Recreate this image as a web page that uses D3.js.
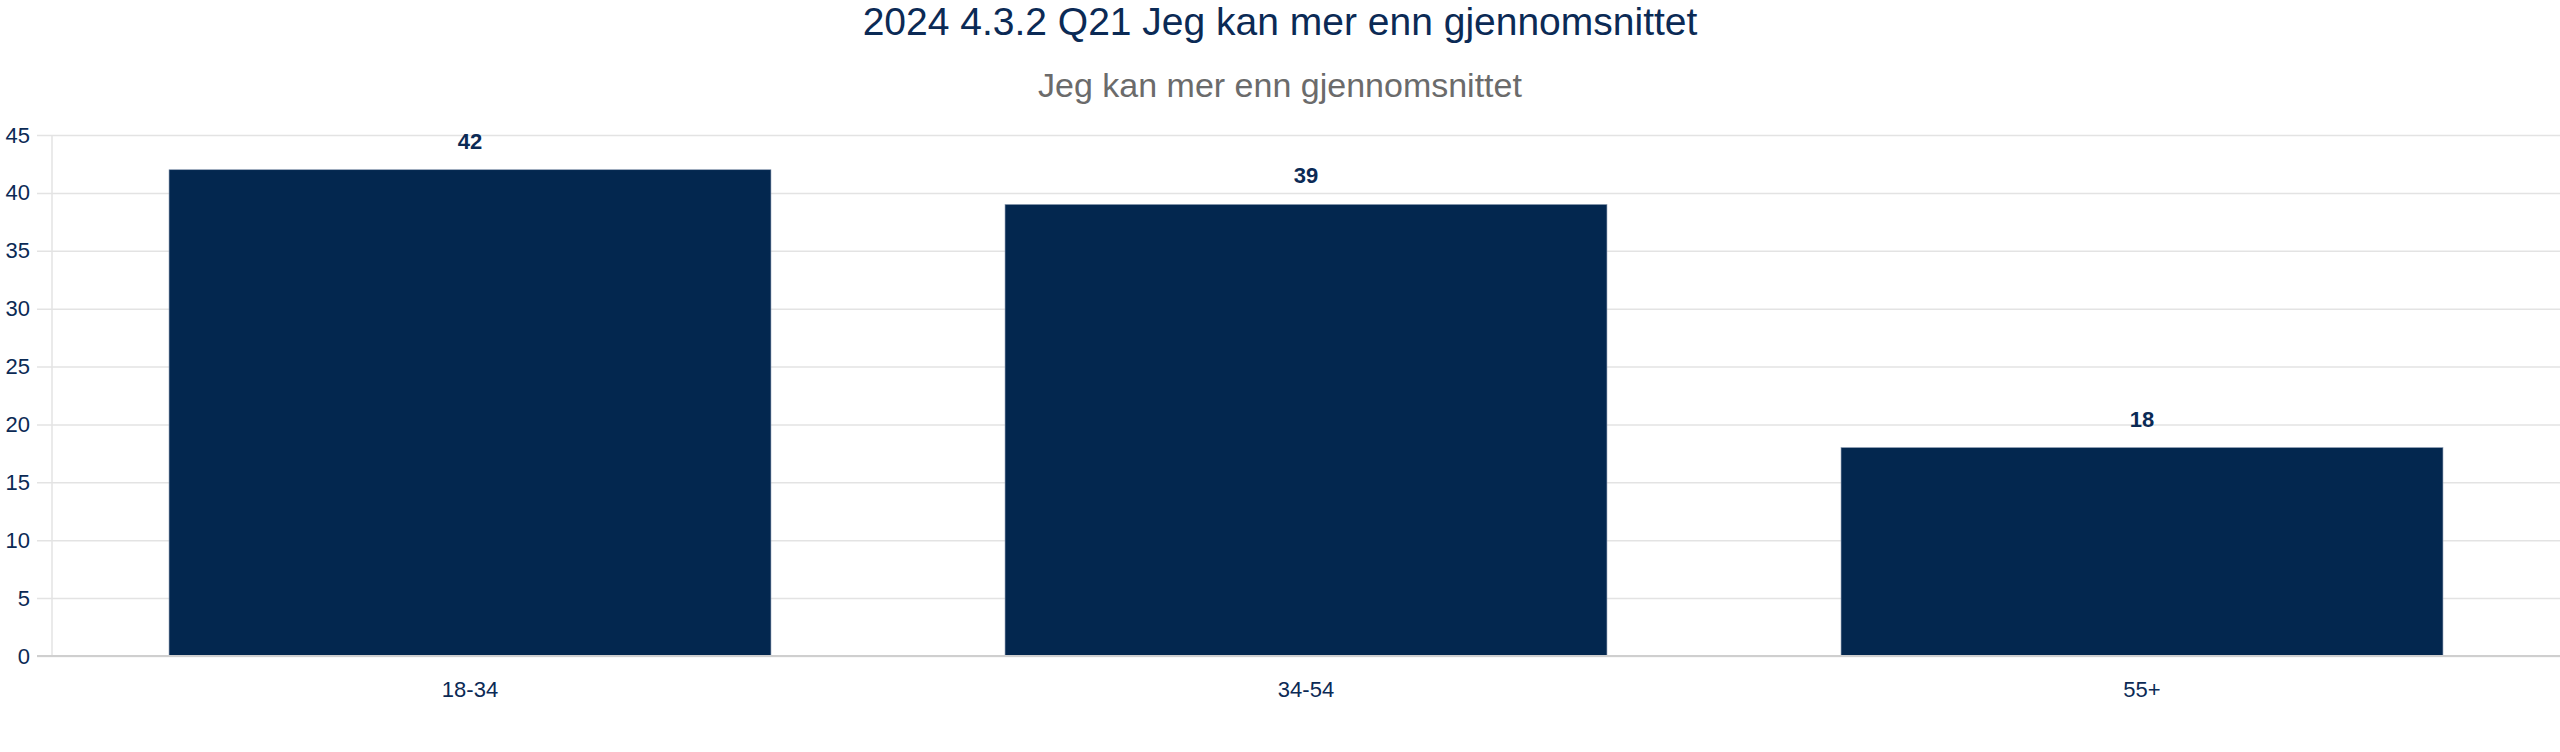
<html>
<head>
<meta charset="utf-8"/>
<script src="https://d3js.org/d3.v7.min.js"></script>
<style>
  body { margin:0; background:#fff; }
  text { font-family: "Liberation Sans", Arial, Helvetica, sans-serif; }
</style>
</head>
<body>
<script>
var titleText = "2024 4.3.2 Q21 Jeg kan mer enn gjennomsnittet";
var subtitleText = "Jeg kan mer enn gjennomsnittet";
var categories = ["18-34", "34-54", "55+"];
var values = [42, 39, 18];
var yTicks = [0, 5, 10, 15, 20, 25, 30, 35, 40, 45];

var width = 2560, height = 752;
var margin = {top: 135, right: 0, bottom: 96, left: 52};
var navy = "#03274f";

var svg = d3.select("body").append("svg").attr("width", width).attr("height", height);

var x = d3.scaleBand().domain(categories)
  .range([margin.left, width - margin.right])
  .paddingInner(0.28).paddingOuter(0.14);
var y = d3.scaleLinear().domain([0, 45]).range([height - margin.bottom, margin.top]);

// titles
svg.append("text").attr("x", width/2).attr("y", 35).attr("text-anchor", "middle")
  .attr("font-size", 39).attr("fill", "#0b2a55").text(titleText);
svg.append("text").attr("x", width/2).attr("y", 97).attr("text-anchor", "middle")
  .attr("font-size", 34).attr("fill", "#6b6b6b").text(subtitleText);

// grid + y axis
var yAxis = d3.axisLeft(y).tickValues(yTicks)
  .tickSize(-(width - margin.left - margin.right)).tickPadding(22);
var gy = svg.append("g").attr("transform", "translate(" + margin.left + ",0)").call(yAxis);
gy.select(".domain").remove();
gy.selectAll(".tick line").attr("stroke", "#e3e3e3").attr("stroke-width", 1.5).attr("x1", -15);
gy.selectAll(".tick text").attr("font-size", 22).attr("fill", "#0b2a55")
  .attr("font-family", "Liberation Sans, Arial, sans-serif");

svg.append("line").attr("x1", margin.left).attr("x2", margin.left)
  .attr("y1", margin.top).attr("y2", y(0)).attr("stroke", "#e3e3e3").attr("stroke-width", 1.5);

// bars
svg.selectAll("rect.bar").data(values).enter().append("rect")
  .attr("class", "bar")
  .attr("x", function(d, i){ return x(categories[i]); })
  .attr("width", x.bandwidth())
  .attr("y", function(d){ return y(d); })
  .attr("height", function(d){ return y(0) - y(d); })
  .attr("fill", navy)
  .attr("stroke", "#8a9ab0").attr("stroke-width", 0.6);

// baseline
svg.append("line").attr("x1", margin.left - 15).attr("x2", width)
  .attr("y1", y(0)).attr("y2", y(0)).attr("stroke", "#cfcfcf").attr("stroke-width", 2);

// value labels
svg.selectAll("text.val").data(values).enter().append("text")
  .attr("class", "val")
  .attr("x", function(d, i){ return x(categories[i]) + x.bandwidth()/2; })
  .attr("y", function(d){ return y(d) - 21; })
  .attr("text-anchor", "middle").attr("font-size", 22).attr("font-weight", "bold")
  .attr("fill", "#0b2a55").text(function(d){ return d; });

// x axis labels
var xAxis = d3.axisBottom(x).tickSize(0).tickPadding(25);
var gx = svg.append("g").attr("transform", "translate(0," + y(0) + ")").call(xAxis);
gx.select(".domain").remove();
gx.selectAll(".tick text").attr("font-size", 22).attr("fill", "#0b2a55")
  .attr("font-family", "Liberation Sans, Arial, sans-serif");
</script>
</body>
</html>
